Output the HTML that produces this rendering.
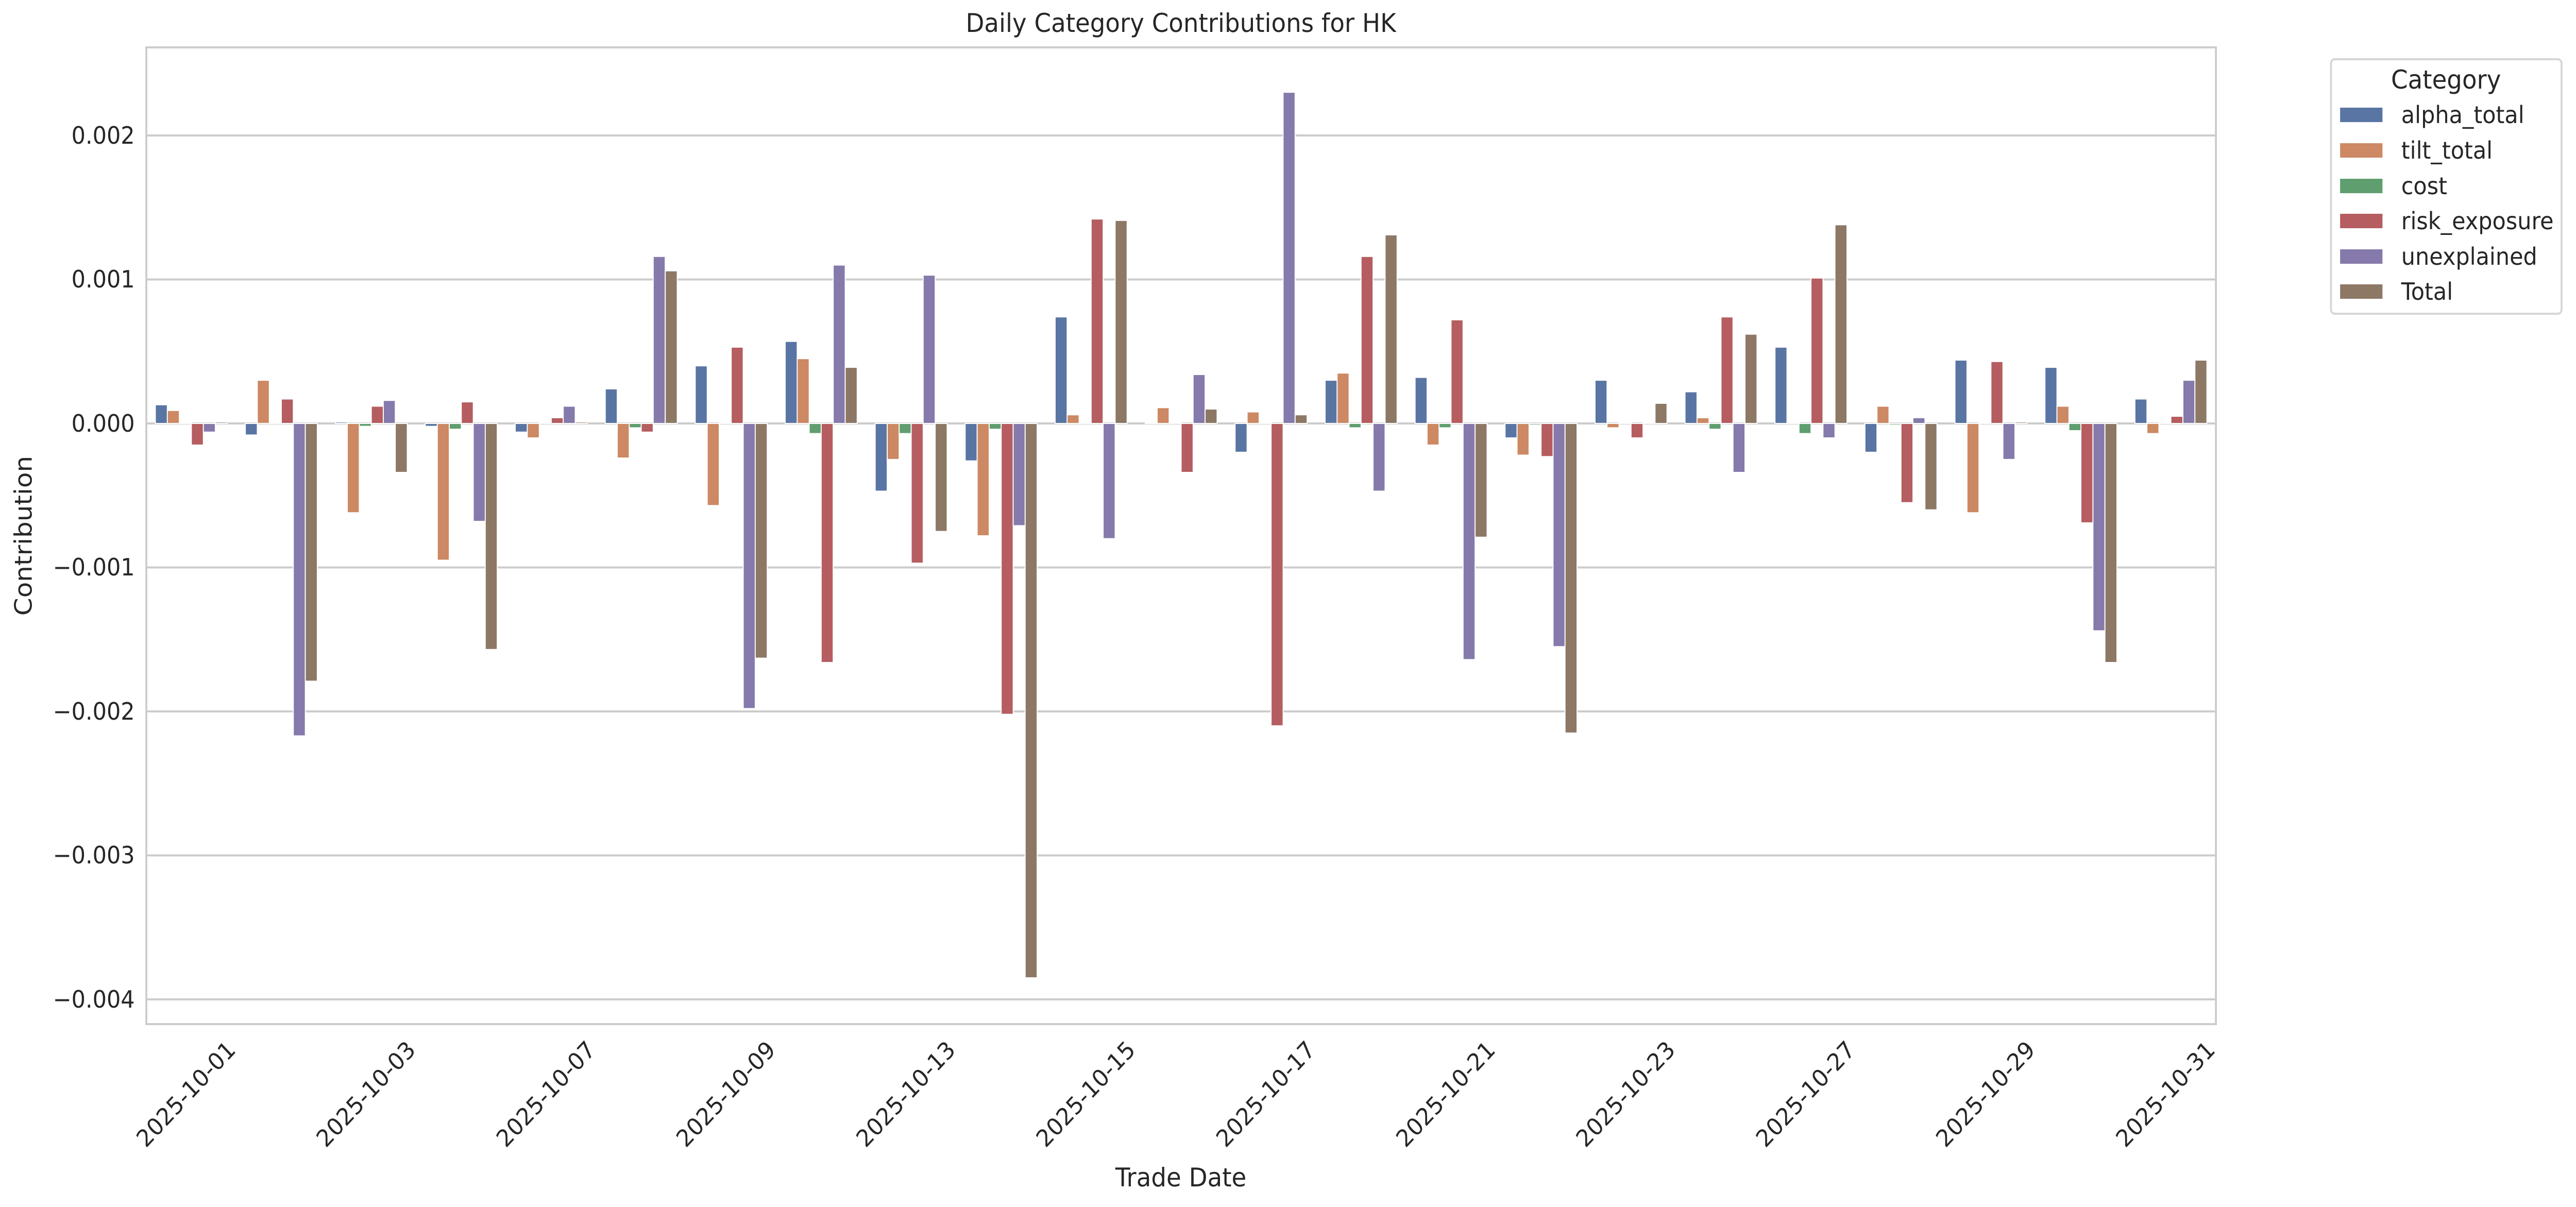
<!DOCTYPE html>
<html><head><meta charset="utf-8"><style>html,body{margin:0;padding:0;background:#fff;overflow:hidden;width:100%;height:100%}svg{display:block;width:100vw;height:100vh}text{font-family:"DejaVu Sans","Liberation Sans",sans-serif;fill:#262626}</style></head>
<body>
<svg id="s" viewBox="0 0 5351 2343" preserveAspectRatio="none" xmlns="http://www.w3.org/2000/svg">
<rect width="5351" height="2343" fill="#fff"/>
<g id="grid" stroke="#cccccc" stroke-width="4">
<line x1="304" x2="4603" y1="263" y2="263"/>
<line x1="304" x2="4603" y1="542.5" y2="542.5"/>
<line x1="304" x2="4603" y1="822" y2="822"/>
<line x1="304" x2="4603" y1="1101.5" y2="1101.5"/>
<line x1="304" x2="4603" y1="1381" y2="1381"/>
<line x1="304" x2="4603" y1="1660.5" y2="1660.5"/>
<line x1="304" x2="4603" y1="1940" y2="1940"/>
</g>
<g id="bars" stroke="#fff" stroke-width="2"></g>
<rect x="304" y="92" width="4299" height="1896" fill="none" stroke="#cccccc" stroke-width="4"/>
<g font-size="46" text-anchor="end">
<text x="280" y="279">0.002</text>
<text x="280" y="558">0.001</text>
<text x="280" y="838">0.000</text>
<text x="280" y="1117">−0.001</text>
<text x="280" y="1397">−0.002</text>
<text x="280" y="1676">−0.003</text>
<text x="280" y="1956">−0.004</text>
</g>
<g font-size="46" text-anchor="middle">
<text transform="translate(397.5,2135) rotate(-45)">2025-10-01</text>
<text transform="translate(771.3,2135) rotate(-45)">2025-10-03</text>
<text transform="translate(1145.1,2135) rotate(-45)">2025-10-07</text>
<text transform="translate(1518.9,2135) rotate(-45)">2025-10-09</text>
<text transform="translate(1892.7,2135) rotate(-45)">2025-10-13</text>
<text transform="translate(2266.5,2135) rotate(-45)">2025-10-15</text>
<text transform="translate(2640.3,2135) rotate(-45)">2025-10-17</text>
<text transform="translate(3014.1,2135) rotate(-45)">2025-10-21</text>
<text transform="translate(3387.9,2135) rotate(-45)">2025-10-23</text>
<text transform="translate(3761.7,2135) rotate(-45)">2025-10-27</text>
<text transform="translate(4135.5,2135) rotate(-45)">2025-10-29</text>
<text transform="translate(4509.3,2135) rotate(-45)">2025-10-31</text>
</g>
<text x="2453" y="62" font-size="50" text-anchor="middle">Daily Category Contributions for HK</text>
<text x="2453" y="2303" font-size="50" text-anchor="middle">Trade Date</text>
<text transform="translate(66,1040) rotate(-90)" font-size="50" text-anchor="middle">Contribution</text>
<rect x="4842" y="115" width="479" height="494" rx="8" fill="#fff" stroke="#d6d6d6" stroke-width="4"/>
<text x="5081" y="172" font-size="50" text-anchor="middle">Category</text>
<g font-size="46">
<rect x="4861" y="209" width="88" height="28" fill="#5975a4"/><text x="4988" y="239">alpha_total</text>
<rect x="4861" y="278" width="88" height="28" fill="#cc8963"/><text x="4988" y="308">tilt_total</text>
<rect x="4861" y="347" width="88" height="28" fill="#5f9e6e"/><text x="4988" y="377">cost</text>
<rect x="4861" y="415" width="88" height="28" fill="#b55d60"/><text x="4988" y="445">risk_exposure</text>
<rect x="4861" y="484" width="88" height="28" fill="#857aab"/><text x="4988" y="514">unexplained</text>
<rect x="4861" y="552" width="88" height="28" fill="#8d7866"/><text x="4988" y="582">Total</text>
</g>
</svg>
<script>
var D=[
[0.00013,0.00009,0,-0.00015,-0.00006,0.00001],
[-0.00008,0.0003,0,0.00017,-0.00217,-0.00179],
[0.00001,-0.00062,-0.00002,0.00012,0.00016,-0.00034],
[-0.00002,-0.00095,-0.00004,0.00015,-0.00068,-0.00157],
[-0.00006,-0.0001,0,0.00004,0.00012,0.00001],
[0.00024,-0.00024,-0.00003,-0.00006,0.00116,0.00106],
[0.0004,-0.00057,0,0.00053,-0.00198,-0.00163],
[0.00057,0.00045,-0.00007,-0.00166,0.0011,0.00039],
[-0.00047,-0.00025,-0.00007,-0.00097,0.00103,-0.00075],
[-0.00026,-0.00078,-0.00004,-0.00202,-0.00071,-0.00385],
[0.00074,0.00006,0,0.00142,-0.0008,0.00141],
[0,0.00011,0,-0.00034,0.00034,0.0001],
[-0.0002,0.00008,0,-0.0021,0.0023,0.00006],
[0.0003,0.00035,-0.00003,0.00116,-0.00047,0.00131],
[0.00032,-0.00015,-0.00003,0.00072,-0.00164,-0.00079],
[-0.0001,-0.00022,-0.00001,-0.00023,-0.00155,-0.00215],
[0.0003,-0.00003,0,-0.0001,0,0.00014],
[0.00022,0.00004,-0.00004,0.00074,-0.00034,0.00062],
[0.00053,0,-0.00007,0.00101,-0.0001,0.00138],
[-0.0002,0.00012,-0.00001,-0.00055,0.00004,-0.0006],
[0.00044,-0.00062,0,0.00043,-0.00025,0.00001],
[0.00039,0.00012,-0.00005,-0.00069,-0.00144,-0.00166],
[0.00017,-0.00007,0,0.00005,0.0003,0.00044]];
var C=["#5975a4","#cc8963","#5f9e6e","#b55d60","#857aab","#8d7866"];
var g=document.getElementById("bars"),ns="http://www.w3.org/2000/svg";
var step=4299/23,bw=step*0.8/6,z=822,k=279500;
for(var i=0;i<23;i++){for(var j=0;j<6;j++){var v=D[i][j],h=Math.abs(v)*k;if(h<1.5)h=1.5;
var r=document.createElementNS(ns,"rect");var x=304+(i+0.1)*step+j*bw;
r.setAttribute("x",x.toFixed(1));r.setAttribute("width",bw.toFixed(1));
r.setAttribute("y",(v>=0?z-h:z).toFixed(1));r.setAttribute("height",h.toFixed(1));
r.setAttribute("fill",C[j]);g.appendChild(r);}}
</script>
</body></html>
